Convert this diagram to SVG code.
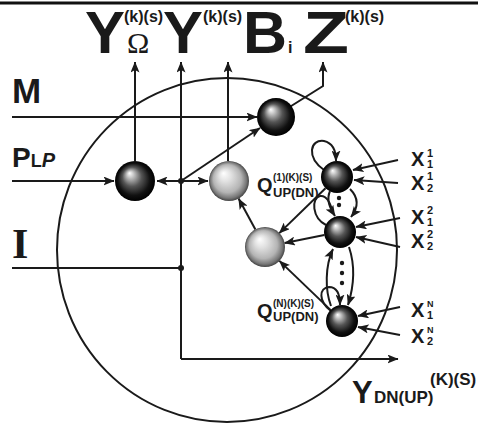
<svg xmlns="http://www.w3.org/2000/svg" width="478" height="425" viewBox="0 0 478 425">
<style>
.ln{fill:none;stroke:#1a1a1a;stroke-width:2}
.ar{marker-end:url(#ah)}
.sans{font-family:"Liberation Sans",Arial,sans-serif;font-weight:bold;fill:#1a1a1a}
.serif{font-family:"Liberation Serif","Times New Roman",serif;fill:#1a1a1a}
.dot{fill:#1a1a1a}
</style>
<defs>
<marker id="ah" viewBox="0 0 11 9" refX="10.5" refY="4.5" markerWidth="11" markerHeight="9" markerUnits="userSpaceOnUse" orient="auto">
<path d="M0,0 L11,4.5 L0,9 L2.5,4.5 z" fill="#1a1a1a"/>
</marker>
<marker id="ahs" viewBox="0 0 11 9" refX="10.5" refY="4.5" markerWidth="11" markerHeight="9" markerUnits="userSpaceOnUse" orient="auto-start-reverse">
<path d="M0,0 L11,4.5 L0,9 L2.5,4.5 z" fill="#1a1a1a"/>
</marker>
<radialGradient id="dark" cx="0.5" cy="0.5" r="0.5" fx="0.36" fy="0.3">
<stop offset="0" stop-color="#ffffff"/>
<stop offset="0.14" stop-color="#d0d0d0"/>
<stop offset="0.48" stop-color="#555"/>
<stop offset="0.8" stop-color="#111"/>
<stop offset="1" stop-color="#000"/>
</radialGradient>
<radialGradient id="light" cx="0.5" cy="0.5" r="0.5" fx="0.36" fy="0.3">
<stop offset="0" stop-color="#ffffff"/>
<stop offset="0.3" stop-color="#e2e2e2"/>
<stop offset="0.7" stop-color="#b4b4b4"/>
<stop offset="0.9" stop-color="#777"/>
<stop offset="1" stop-color="#444"/>
</radialGradient>
</defs>
<rect x="0" y="1.5" width="478" height="3" fill="#111"/>
<ellipse cx="227" cy="250" rx="170" ry="172" class="ln"/>

<g id="labels">
<text class="sans" x="85" y="53" font-size="60" textLength="40" lengthAdjust="spacingAndGlyphs">Y</text>
<text class="sans" x="124" y="22" font-size="16">(k)(s)</text>
<text class="serif" x="127" y="53" font-size="30">Ω</text>
<text class="sans" x="163" y="53" font-size="60" textLength="40" lengthAdjust="spacingAndGlyphs">Y</text>
<text class="sans" x="203" y="22" font-size="16">(k)(s)</text>
<text class="sans" x="243" y="53" font-size="60" textLength="44" lengthAdjust="spacingAndGlyphs">B</text>
<text class="sans" x="288" y="53" font-size="16" font-weight="normal">i</text>
<text class="sans" x="303" y="53" font-size="60" textLength="46" lengthAdjust="spacingAndGlyphs">Z</text>
<text class="sans" x="345" y="22" font-size="16">(k)(s)</text>
<text class="sans" x="12" y="103" font-size="35">M</text>
<text class="sans" x="12" y="167" font-size="28">P<tspan font-size="18">L</tspan><tspan font-size="20" font-style="italic">P</tspan></text>
<text class="serif" x="12" y="258" font-size="42" font-weight="bold">I</text>
<text class="sans" x="257" y="192" font-size="20">Q</text>
<text class="sans" x="273" y="181" font-size="10">(1)(K)(S)</text>
<text class="sans" x="273" y="197" font-size="13">UP(DN)</text>
<text class="sans" x="257" y="318" font-size="20">Q</text>
<text class="sans" x="273" y="307" font-size="10">(N)(K)(S)</text>
<text class="sans" x="273" y="321" font-size="13">UP(DN)</text>
<text class="sans" x="352" y="403" font-size="31">Y</text>
<text class="sans" x="374" y="403" font-size="17">DN(UP)</text>
<text class="sans" x="430" y="385" font-size="17">(K)(S)</text>
<text class="sans" x="411" y="166" font-size="20">X</text>
<text class="sans" x="427" y="157" font-size="11" font-weight="normal">1</text>
<text class="sans" x="427" y="168" font-size="11" font-weight="normal">1</text>
<text class="sans" x="411" y="190" font-size="20">X</text>
<text class="sans" x="427" y="180" font-size="11" font-weight="normal">1</text>
<text class="sans" x="427" y="192" font-size="11" font-weight="normal">2</text>
<text class="sans" x="411" y="224" font-size="20">X</text>
<text class="sans" x="427" y="214" font-size="11" font-weight="normal">2</text>
<text class="sans" x="427" y="226" font-size="11" font-weight="normal">1</text>
<text class="sans" x="411" y="248" font-size="20">X</text>
<text class="sans" x="427" y="238" font-size="11" font-weight="normal">2</text>
<text class="sans" x="427" y="250" font-size="11" font-weight="normal">2</text>
<text class="sans" x="411" y="317" font-size="20">X</text>
<text class="sans" x="427" y="307" font-size="9" font-weight="normal">N</text>
<text class="sans" x="427" y="319" font-size="11" font-weight="normal">1</text>
<text class="sans" x="411" y="343" font-size="20">X</text>
<text class="sans" x="427" y="333" font-size="9" font-weight="normal">N</text>
<text class="sans" x="427" y="345" font-size="11" font-weight="normal">2</text>
</g>

<g id="connectors">
<path class="ln ar" d="M135,161 V62"/>
<path class="ln ar" d="M181,359 V62"/>
<path class="ln ar" d="M228,161 V62"/>
<path class="ln ar" d="M288,108 L323,86 V62"/>
<path class="ln ar" d="M12,117 H257"/>
<path class="ln ar" d="M12,181 H114"/>
<path class="ln" d="M157,181 H208" marker-start="url(#ahs)" marker-end="url(#ahs)"/>
<path class="ln ar" d="M181,181 L260,128"/>
<path class="ln" d="M12,268 H181"/>
<path class="ln ar" d="M181,359 H398"/>
<circle class="dot" cx="181" cy="181" r="3"/>
<circle class="dot" cx="181" cy="268" r="3"/>
<path class="ln ar" d="M255.4,229.4 L238.6,198.6"/>
<path class="ln ar" d="M325.5,188.2 L279.3,233.1"/>
<path class="ln ar" d="M324.3,235.1 L284.6,243.1"/>
<path class="ln ar" d="M330.5,309.9 L279.4,260.9"/>
<path class="ln ar" d="M398,160 L353,170"/>
<path class="ln ar" d="M398,183 L354,180"/>
<path class="ln ar" d="M400,218 L356,227"/>
<path class="ln ar" d="M400,247 L356,237"/>
<path class="ln ar" d="M400,307 L358,316"/>
<path class="ln ar" d="M400,335 L358,327"/>
<path class="ln ar" d="M324,170 C306,157 310,139 324,141 C333,143 336,151 336,161"/>
<path class="ln ar" d="M350,189 C359,198 358,208 351,217"/>
<path class="ln ar" d="M330,191 C326,200 330,208 335,216"/>
<path class="ln" d="M326,225 C312,218 311,198 320,196 C327,195 330,203 333,212"/>
<path class="ln ar" d="M331,306 C325,290 325,266 333,249"/>
<path class="ln ar" d="M349,247 C355,265 354,286 348,305"/>
<path class="ln ar" d="M331,311 C318,301 319,288 329,287 C337,287 340,295 340,305"/>
<circle class="dot" cx="339" cy="198" r="2.2"/>
<circle class="dot" cx="339" cy="205" r="2.2"/>
<circle class="dot" cx="342" cy="263" r="2.2"/>
<circle class="dot" cx="342" cy="273" r="2.2"/>
<circle class="dot" cx="342" cy="283" r="2.2"/>
</g>

<g id="node-m"><circle cx="276" cy="117" r="19" fill="url(#dark)"/></g>
<g id="node-p"><circle cx="135" cy="181" r="20" fill="url(#dark)"/></g>
<g id="node-q1"><circle cx="229" cy="181" r="20" fill="url(#light)"/></g>
<g id="node-q2"><circle cx="265" cy="247" r="20" fill="url(#light)"/></g>
<g id="node-r1"><circle cx="337" cy="177" r="16" fill="url(#dark)"/></g>
<g id="node-r2"><circle cx="340" cy="232" r="16" fill="url(#dark)"/></g>
<g id="node-rn"><circle cx="342" cy="321" r="16" fill="url(#dark)"/></g>
</svg>
